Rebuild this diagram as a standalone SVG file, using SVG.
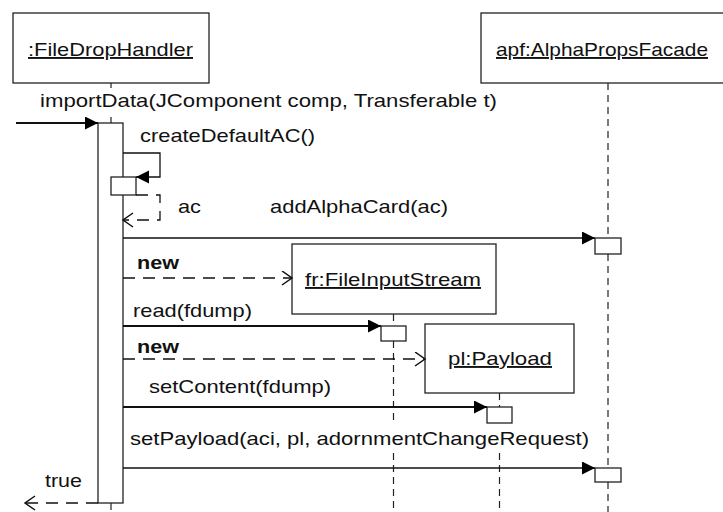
<svg xmlns="http://www.w3.org/2000/svg" width="723" height="512" viewBox="0 0 723 512">
<style>
.box{fill:#fff;stroke:#222;stroke-width:1.3}
.act{fill:#fff;stroke:#222;stroke-width:1.3}
.life{fill:none;stroke:#222;stroke-width:1.2;stroke-dasharray:7,5}
.t{font-family:"Liberation Sans",Arial,sans-serif;font-size:19px;fill:#111}
.b{font-weight:bold}
.u{text-decoration:underline}
.msg{fill:none;stroke:#111;stroke-width:1.3}
.thick{stroke-width:2}
.dash{stroke-dasharray:12,8}
</style>
<defs>
<marker id="fa" markerUnits="userSpaceOnUse" markerWidth="14" markerHeight="14" refX="13" refY="6.5" orient="auto">
<path d="M0,0 L13,6.5 L0,13 z" fill="#000"/>
</marker>
<marker id="oa" markerUnits="userSpaceOnUse" markerWidth="14" markerHeight="16" refX="11" refY="7.5" orient="auto">
<path d="M1,0.5 L11,7.5 L1,14.5" fill="none" stroke="#111" stroke-width="1.5"/>
</marker>
</defs>
<rect width="723" height="512" fill="#fff"/>

<g id="fileDropHandler">
<rect class="box" x="13" y="13" width="196" height="70"/>
<text class="t u" x="28" y="56" textLength="165" lengthAdjust="spacingAndGlyphs">:FileDropHandler</text>
<path class="life" d="M111,83 V88 M111,117 V123 M111,503 V512"/>
<rect class="act" x="98" y="123" width="25" height="380"/>
<rect class="act" x="111" y="177" width="25" height="18"/>
</g>

<g id="alphaPropsFacade">
<rect class="box" x="481" y="13" width="250" height="70"/>
<text class="t u" x="496" y="56" textLength="212" lengthAdjust="spacingAndGlyphs">apf:AlphaPropsFacade</text>
<path class="life" d="M608,83 V238 M608,254 V468 M608,482 V512"/>
<rect class="act" x="595" y="238" width="26" height="16"/>
<rect class="act" x="595" y="468" width="26" height="14"/>
</g>

<g id="fileInputStream">
<rect class="box" x="292" y="244" width="204" height="70"/>
<text class="t u" x="305" y="286" textLength="176" lengthAdjust="spacingAndGlyphs">fr:FileInputStream</text>
<path class="life" d="M393.5,314 V326 M393.5,341 V425 M393.5,453 V512"/>
<rect class="act" x="381" y="326" width="25" height="15"/>
</g>

<g id="payload">
<rect class="box" x="425" y="324" width="149" height="69"/>
<text class="t u" x="448" y="365" textLength="104" lengthAdjust="spacingAndGlyphs">pl:Payload</text>
<path class="life" d="M499.5,393 V407 M499.5,453 V512"/>
<rect class="act" x="487" y="407" width="25" height="16"/>
</g>

<g id="connectors">
<path class="msg thick" d="M16,123 H98" marker-end="url(#fa)"/>
<text class="t" x="40" y="107" textLength="457" lengthAdjust="spacingAndGlyphs">importData(JComponent comp, Transferable t)</text>

<path class="msg" d="M123,153 H160 V177 H136" marker-end="url(#fa)"/>
<text class="t" x="140" y="142" textLength="175" lengthAdjust="spacingAndGlyphs">createDefaultAC()</text>

<path class="msg dash" d="M136,195 H160 V220 H123" marker-end="url(#oa)"/>
<text class="t" x="178" y="213" textLength="23" lengthAdjust="spacingAndGlyphs">ac</text>

<path class="msg" d="M123,238 H595" marker-end="url(#fa)"/>
<text class="t" x="270" y="213" textLength="178" lengthAdjust="spacingAndGlyphs">addAlphaCard(ac)</text>

<path class="msg dash" d="M123,278 H292" marker-end="url(#oa)"/>
<text class="t b" x="137" y="269" textLength="42" lengthAdjust="spacingAndGlyphs">new</text>

<path class="msg thick" d="M123,326 H381" marker-end="url(#fa)"/>
<text class="t" x="133" y="317" textLength="119" lengthAdjust="spacingAndGlyphs">read(fdump)</text>

<path class="msg dash" d="M123,359 H425" marker-end="url(#oa)"/>
<text class="t b" x="137" y="353" textLength="42" lengthAdjust="spacingAndGlyphs">new</text>

<path class="msg thick" d="M123,407 H487" marker-end="url(#fa)"/>
<text class="t" x="149" y="393" textLength="182" lengthAdjust="spacingAndGlyphs">setContent(fdump)</text>

<path class="msg" d="M123,468 H595" marker-end="url(#fa)"/>
<text class="t" x="130" y="445" textLength="459" lengthAdjust="spacingAndGlyphs">setPayload(aci, pl, adornmentChangeRequest)</text>

<path class="msg dash" d="M98,503 H25" marker-end="url(#oa)"/>
<text class="t" x="45" y="487" textLength="37" lengthAdjust="spacingAndGlyphs">true</text>
</g>
</svg>
